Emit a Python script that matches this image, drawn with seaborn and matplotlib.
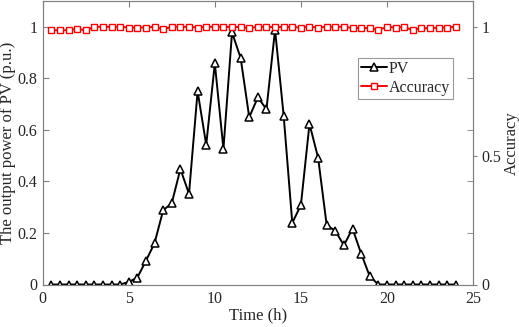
import numpy as np
import pandas as pd
import matplotlib.pyplot as plt
import seaborn as sns

# --- data ---
time_h = [0.5 * i for i in range(1, 49)]
pv_power = [0, 0, 0, 0, 0, 0, 0, 0, 0,
            0.010, 0.027, 0.092, 0.161, 0.288, 0.316, 0.448, 0.352, 0.750,
            0.542, 0.858, 0.526, 0.978, 0.879, 0.649, 0.726, 0.680, 0.988,
            0.655, 0.239, 0.308, 0.623, 0.492, 0.230, 0.208, 0.152, 0.217,
            0.120, 0.032, 0, 0, 0, 0, 0, 0, 0, 0, 0, 0]
accuracy = [0.987, 0.986, 0.987, 0.992, 0.986, 1.0, 1.0, 1.0, 1.0,
            0.997, 0.997, 0.997, 1.0, 0.990, 1.0, 1.0, 1.0, 0.997,
            1.0, 1.0, 1.0, 0.999, 0.999, 0.995, 1.0, 1.0, 0.998,
            1.0, 0.999, 0.997, 1.0, 0.997, 1.0, 1.0, 1.0, 0.995,
            0.995, 0.995, 0.987, 1.0, 0.997, 0.999, 0.987, 0.995, 0.994,
            0.997, 0.997, 1.0]

df = pd.DataFrame({'time': time_h, 'pv': pv_power, 'acc': accuracy})

sns.set_style('white')
plt.rcParams['font.family'] = ['Liberation Serif', 'DejaVu Serif']
plt.rcParams['font.size'] = 11

fig = plt.figure(figsize=(5.19, 3.27), dpi=100)
ax = fig.add_axes([42.7 / 519, 1 - 284.5 / 327, 430.3 / 519, 283.5 / 327])
ax2 = ax.twinx()

sns.lineplot(data=df, x='time', y='pv', ax=ax, color='black', lw=1.4,
             marker='^', markersize=6, markerfacecolor='white',
             markeredgecolor='black', markeredgewidth=1.1, label='PV', legend=False)
sns.lineplot(data=df, x='time', y='acc', ax=ax2, color='red', lw=1.4,
             marker='s', markersize=4, markerfacecolor='white',
             markeredgecolor='red', markeredgewidth=1.0, label='Accuracy', legend=False)

ax.set_xlim(0, 25)
ax.set_ylim(0, 1.1)
ax2.set_ylim(0, 1.1)
ax.set_xticks([0, 5, 10, 15, 20, 25])
ax.set_yticks([0, 0.2, 0.4, 0.6, 0.8, 1.0])
ax.set_yticklabels(['0', '0.2', '0.4', '0.6', '0.8', '1'])
ax2.set_yticks([0, 0.5, 1.0])
ax2.set_yticklabels(['0', '0.5', '1'])
ax2.set_yticks([0.2, 0.4, 0.6, 0.8, 1.0], minor=True)

for a in (ax, ax2):
    for s in a.spines.values():
        s.set_color('#808080')
        s.set_linewidth(0.8)
    a.tick_params(direction='in', length=4, color='#808080', labelsize=11.5, pad=4)
    a.tick_params(which='minor', direction='in', length=4, color='#808080')
ax.tick_params(top=True)
ax.tick_params(axis='x', pad=5)
ax2.tick_params(axis='y', which='major', direction='out', length=3, pad=3)

ax.set_xlabel('Time (h)', fontsize=12, labelpad=0)
ax.set_ylabel('The output power of PV (p.u.)', fontsize=12)
ax2.set_ylabel('Accuracy', fontsize=12)
ax.yaxis.set_label_coords(-0.062, 0.5)
ax2.yaxis.set_label_coords(1.071, 0.5)

h1, l1 = ax.get_legend_handles_labels()
h2, l2 = ax2.get_legend_handles_labels()
leg = ax2.legend(h1 + h2, l1 + l2, loc='upper left', bbox_to_anchor=(0.733, 0.80),
                 frameon=True, fancybox=False, fontsize=11.5, handlelength=1.6,
                 handletextpad=0.1, borderpad=0.2, labelspacing=0.2,
                 borderaxespad=0)
leg.get_frame().set_edgecolor('#808080')
leg.get_frame().set_linewidth(0.8)

fig.savefig('out.png', dpi=100)
